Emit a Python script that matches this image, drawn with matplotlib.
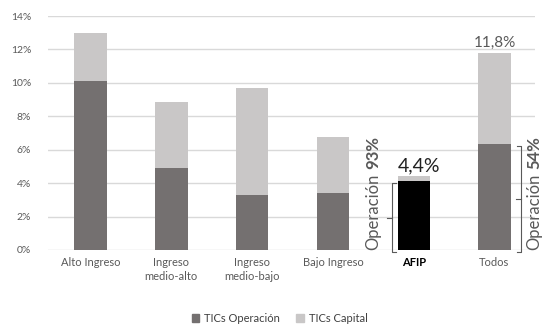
import numpy as np
import matplotlib.pyplot as plt
from matplotlib.patches import Rectangle

plt.rcParams['font.family'] = ['Lato', 'DejaVu Sans']

categories = ['Alto Ingreso', 'Ingreso\nmedio-alto', 'Ingreso\nmedio-bajo', 'Bajo Ingreso', 'AFIP', 'Todos']
operacion = [10.1, 4.9, 3.3, 3.4, 4.1, 6.35]
total = [13.0, 8.85, 9.7, 6.75, 4.4, 11.8]
capital = [t - o for t, o in zip(total, operacion)]
yticks = [0, 2, 4, 6, 8, 10, 12, 14]

c_op = '#747070'
c_cap = '#c9c7c7'
c_txt = '#595959'

fig = plt.figure(figsize=(5.43, 3.28), dpi=100)
ax = fig.add_axes([0.088, 0.238, 0.897, 0.713])

x = np.arange(len(categories))
op_colors = [c_op] * len(categories)
op_colors[4] = '#000000'
ax.bar(x, operacion, width=0.4, color=op_colors, zorder=3)
ax.bar(x, capital, width=0.4, bottom=operacion, color=c_cap, zorder=3)

ax.set_xlim(-0.53, 5.5)
ax.set_ylim(0, 14)
ax.set_yticks(yticks)
ax.set_yticklabels([f'{v}%' for v in yticks], color=c_txt, fontsize=7.5)
ax.yaxis.grid(True, color='#d9d9d9', linewidth=1, zorder=0)
ax.tick_params(length=0, pad=12)
ax.tick_params(axis='x', pad=5)
for s in ax.spines.values():
    s.set_visible(False)

ax.set_xticks(x)
ax.set_xticklabels(categories, fontsize=8, color=c_txt, linespacing=1.3)
lab = ax.get_xticklabels()[4]
lab.set_color('black')
lab.set_fontweight('bold')

# value labels
ax.text(4.07, total[4] + 0.15, '4,4%', ha='center', va='bottom', fontsize=14, color='#222222')
ax.text(5, total[5] + 0.15, '11,8%', ha='center', va='bottom', fontsize=11, color=c_txt)

# brackets
def bracket(xl, y0, y1, side):
    h = 0.05 * side
    ax.plot([xl + h, xl, xl, xl + h], [y0, y0, y1, y1], color='#595959', lw=0.8, clip_on=False, zorder=4)
    ym = (y0 + y1) / 2
    ax.plot([xl, xl - 0.06], [ym, ym], color='#595959', lw=0.8, clip_on=False, zorder=4)

bracket(3.73, -0.15, operacion[4] - 0.1, 1)
bracket(5.33, -0.15, operacion[5] - 0.1, -1)

def rot_label(xp, pct):
    t = ax.text(xp, 0.0, 'Operación', rotation=90, ha='center', va='bottom', fontsize=12,
                color=c_txt, clip_on=False)
    ax.annotate(pct, xy=(0.5, 1), xycoords=t, xytext=(0, 3), textcoords='offset points',
                rotation=90, ha='center', va='bottom', fontsize=12, fontweight='bold',
                color=c_txt, annotation_clip=False)

rot_label(3.505, '93%')
rot_label(5.49, '54%')

handles = [Rectangle((0, 0), 1, 1, color=c_op), Rectangle((0, 0), 1, 1, color=c_cap)]
fig.legend(handles, ['TICs Operación', 'TICs Capital'], loc='center', bbox_to_anchor=(0.515, 0.03),
           ncol=2, frameon=False, fontsize=8, handlelength=0.7, handleheight=0.7,
           handletextpad=0.4, columnspacing=1.5, labelcolor='#404040')

fig.savefig('out.png', dpi=100)
